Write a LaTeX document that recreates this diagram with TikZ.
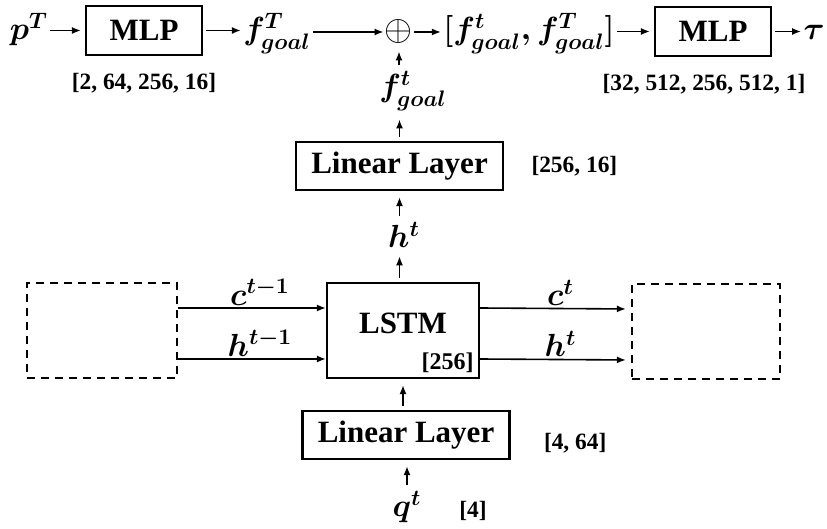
\RequirePackage{fix-cm}
\documentclass[tikz,border=0pt]{standalone}
\usepackage{amsmath}
\usepackage{fontspec}
\setmainfont{Liberation Serif}
\usepackage{tikz}
\usetikzlibrary{arrows.meta, positioning, calc}
\tikzstyle{layer}  = [rectangle, draw=black, line width=1.1pt,
                      minimum width=103.5pt, minimum height=24pt, inner sep=0pt,
                      text centered, font=\fontsize{15.5}{18}\selectfont\bfseries]
\tikzstyle{mlpbox} = [layer, minimum width=58pt, minimum height=24.5pt]
\tikzstyle{ghost}  = [rectangle, draw=black, line width=1.1pt,
                      dash pattern=on 4pt off 3pt, minimum width=75pt,
                      minimum height=47.5pt, inner sep=0pt]
\tikzstyle{var}    = [inner sep=1pt, font=\fontsize{16}{18}\selectfont\boldmath]
\tikzstyle{dims}   = [inner sep=0pt, font=\fontsize{11.7}{13}\selectfont\bfseries]
\tikzstyle{arr}    = [-{Latex[length=4.5pt,width=3.5pt]}, line width=0.8pt]
\tikzstyle{up}     = [arr, shorten <=2pt, shorten >=3pt]

\begin{document}
\begin{tikzpicture}[x=0.5pt, y=-0.5pt]
  \useasboundingbox (0,0) rectangle (827,529);

  %% ── Goal branch (top row) ─────────────────────────────────────
  \node[var, anchor=base] (pT) at (29,40) {$p^T$};
  \node[mlpbox] (mlp1) at (144,30.5) {MLP};
  \node[dims, below=8.5pt of mlp1] (d1) {[2, 64, 256, 16]};
  \node[var, anchor=base] (fT) at (277,40) {$f^T_{goal}$};
  \node[inner sep=0.5pt, font=\fontsize{18}{20}\selectfont] (sum) at (399,32) {$\oplus$};
  \node[var, anchor=base] (cat) at (529,40) {$[f^t_{goal}, f^T_{goal}]$};
  \node[mlpbox] (mlp2) at (713,31.5) {MLP};
  \node[dims, below=8.5pt of mlp2, xshift=-4.5pt] (d2) {[32, 512, 256, 512, 1]};
  \node[var, anchor=base] (tau) at (814,40) {$\tau$};

  \draw[arr] (pT.east |- mlp1.west) -- ([xshift=-2pt]mlp1.west);
  \draw[arr] ([xshift=1.5pt]mlp1.east) -- (fT.west |- mlp1.east);
  \draw[arr] (fT.east |- sum.west) -- (sum.west);
  \draw[arr] (sum.east) -- (cat.west |- sum.east);
  \draw[arr] (cat.east |- mlp2.west) -- ([xshift=-2pt]mlp2.west);
  \draw[arr] ([xshift=1.5pt]mlp2.east) -- (tau.west |- mlp2.east);

  %% ── Recurrent column ──────────────────────────────────────────
  \node[var] (ft) at (413,91) {$f^t_{goal}$};
  \node[layer] (lin1) at (399.5,166) {Linear Layer};
  \node[dims, right=13.5pt of lin1] (d3) {[256, 16]};
  \node[var] (ht) at (404,235) {$h^t$};
  \node[layer, minimum width=76pt, minimum height=47.5pt, text depth=7pt,
        label={[dims, font=\fontsize{12}{13}\selectfont\bfseries,
                anchor=south east, inner sep=3pt]south east:{[256]}}] (lstm)
      at (403,330.5) {LSTM};
  \node[layer] (lin2) at (406,435) {Linear Layer};
  \node[dims, right=16.5pt of lin2, yshift=-4pt] (d4) {[4, 64]};
  \node[var] (qt) at (407,507) {$q^t$};
  \node[dims] (d5) at (473,511) {[4]};

  \draw[up] (ft.north -| sum.south) -- (sum.south);
  \draw[up] (lin1.north) -- (lin1.north |- ft.south);
  \draw[up] (ht.north -| lin1.south) -- (lin1.south);
  \draw[up] (lstm.north -| lin1.south) -- (lin1.south |- ht.south);
  \draw[up] (lin2.north -| lstm.south) -- (lstm.south);
  \draw[up] (qt.north) -- (qt.north |- lin2.south);

  %% ── Previous / next time steps ────────────────────────────────
  \node[ghost] (prev) at (102,330.5) {};
  \node[ghost, minimum width=74pt] (next) at (706,331.5) {};

  \draw[arr] ([yshift=11.25pt]prev.east) -- ([yshift=11.25pt]lstm.west)
      node[var, midway, above, xshift=4pt] {$c^{t-1}$};
  \draw[arr] ([yshift=-14.25pt]prev.east) -- ([yshift=-14.25pt]lstm.west)
      node[var, midway, above, xshift=4pt] {$h^{t-1}$};
  \draw[arr, shorten >=2.5pt] ([yshift=11.25pt]lstm.east) -- ([yshift=11.25pt]next.west)
      node[var, midway, above, xshift=2.5pt] {$c^t$};
  \draw[arr, shorten >=2.5pt] ([yshift=-14.25pt]lstm.east) -- ([yshift=-14.25pt]next.west)
      node[var, midway, above, xshift=2.5pt] {$h^t$};

\end{tikzpicture}
\end{document}
